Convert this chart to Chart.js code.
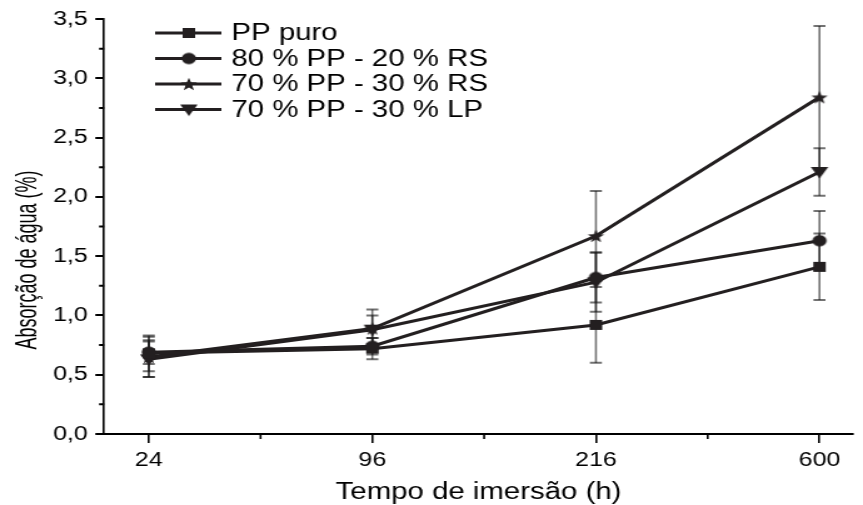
<!DOCTYPE html>
<html>
<head>
<meta charset="utf-8">
<script src="https://cdn.jsdelivr.net/npm/chart.js@4.4.1/dist/chart.umd.min.js"></script>
<style>
html, body { margin: 0; padding: 0; background: #fff; overflow: hidden; }
canvas { display: block; }
</style>
</head>
<body>
<!-- the original figure is stretched sideways, so the canvas is drawn narrow and widened by css -->
<canvas id="absorcao" width="690" height="505" style="width:863px;height:505px"></canvas>
<script>
const categories = ['24', '96', '216', '600']
const seriesNames = ['PP puro', '80 % PP - 20 % RS', '70 % PP - 30 % RS', '70 % PP - 30 % LP']

const ppPuro = [0.68, 0.72, 0.92, 1.41]
const ppPuroErr = [0.15, 0.09, 0.32, 0.28]
const pp80rs20 = [0.69, 0.74, 1.32, 1.63]
const pp80rs20Err = [0.10, 0.07, 0.21, 0.25]
const pp70rs30 = [0.65, 0.89, 1.67, 2.84]
const pp70rs30Err = [0.17, 0.16, 0.38, 0.60]
const pp70lp30 = [0.63, 0.88, 1.28, 2.21]
const pp70lp30Err = [0.15, 0.12, 0.25, 0.20]

const ink = '#231f20'
const font = "'Liberation Sans', Arial, sans-serif"

function marker(kind) {
    const c = document.createElement('canvas')
    c.width = 18
    c.height = 18
    const g = c.getContext('2d')
    g.fillStyle = ink
    g.beginPath()
    if (kind === 'square') {
        g.rect(4, 4, 10, 10)
    } else if (kind === 'circle') {
        g.arc(9, 9, 5.7, 0, Math.PI * 2)
    } else if (kind === 'star') {
        for (let k = 0; k < 10; k++) {
            const r = k % 2 ? 2.8 : 6.9
            const a = -Math.PI / 2 + k * Math.PI / 5
            g.lineTo(9 + r * Math.cos(a), 9.6 + r * Math.sin(a))
        }
    } else {
        g.moveTo(2, 4)
        g.lineTo(16, 4)
        g.lineTo(9, 15.5)
    }
    g.closePath()
    g.fill()
    return c
}

const markers = [marker('square'), marker('circle'), marker('star'), marker('tri')]
const values = [ppPuro, pp80rs20, pp70rs30, pp70lp30]
const errors = [ppPuroErr, pp80rs20Err, pp70rs30Err, pp70lp30Err]

const datasets = values.map((vals, i) => ({
    label: seriesNames[i],
    data: vals.map((v, j) => ({ x: j, y: v })),
    errors: errors[i],
    borderColor: ink,
    borderWidth: 3,
    pointStyle: markers[i],
    pointRadius: 5,
    tension: 0
}))

// vertical error bars with caps, drawn under the lines
const errorBars = {
    id: 'errorBars',
    beforeDatasetsDraw(chart) {
        const ctx = chart.ctx
        const y = chart.scales.y
        ctx.save()
        ctx.strokeStyle = 'rgba(20,20,20,0.6)'
        chart.data.datasets.forEach((ds, i) => {
            const meta = chart.getDatasetMeta(i)
            ds.errors.forEach((e, j) => {
                const px = meta.data[j].x
                const top = y.getPixelForValue(ds.data[j].y + e)
                const bot = y.getPixelForValue(ds.data[j].y - e)
                ctx.lineWidth = 1.6
                ctx.beginPath()
                ctx.moveTo(px, top)
                ctx.lineTo(px, bot)
                ctx.stroke()
                ctx.lineWidth = 2
                ctx.beginPath()
                ctx.moveTo(px - 4.8, top)
                ctx.lineTo(px + 4.8, top)
                ctx.moveTo(px - 4.8, bot)
                ctx.lineTo(px + 4.8, bot)
                ctx.stroke()
            })
        })
        ctx.restore()
    }
}

// minor ticks, legend and axis titles
const decorations = {
    id: 'decorations',
    afterDraw(chart) {
        const ctx = chart.ctx
        const { x, y } = chart.scales
        const area = chart.chartArea
        ctx.save()
        ctx.strokeStyle = '#000'

        ctx.lineWidth = 1.6
        ctx.beginPath()
        for (let v = 0.5; v < 3; v += 1) {
            const px = x.getPixelForValue(v)
            ctx.moveTo(px, area.bottom)
            ctx.lineTo(px, area.bottom + 5)
        }
        ctx.stroke()
        ctx.lineWidth = 2
        ctx.beginPath()
        for (let v = 0.25; v < 3.5; v += 0.5) {
            const py = y.getPixelForValue(v)
            ctx.moveTo(area.left, py)
            ctx.lineTo(area.left - 4, py)
        }
        ctx.stroke()

        // legend
        ctx.fillStyle = '#000'
        ctx.font = '23.5px ' + font
        ctx.textBaseline = 'middle'
        chart.data.datasets.forEach((ds, i) => {
            const ry = 33 + i * 25.5
            ctx.strokeStyle = ink
            ctx.lineWidth = 3
            ctx.beginPath()
            ctx.moveTo(124, ry)
            ctx.lineTo(177, ry)
            ctx.stroke()
            const m = ds.pointStyle
            ctx.drawImage(m, 151 - m.width / 2, ry - m.height / 2)
            ctx.fillText(ds.label, 185, ry + 1)
        })

        // axis titles
        ctx.textAlign = 'center'
        ctx.font = '23.5px ' + font
        ctx.fillText('Tempo de imersão (h)', (area.left + area.right) / 2, 493)
        ctx.translate(22, 260)
        ctx.rotate(-Math.PI / 2)
        ctx.scale(0.75, 1)
        ctx.font = '24px ' + font
        ctx.fillText('Absorção de água (%)', 0, 0)
        ctx.restore()
    }
}

const chart = new Chart(document.getElementById('absorcao'), {
    type: 'line',
    data: { datasets: datasets },
    plugins: [errorBars, decorations],
    options: {
        responsive: false,
        devicePixelRatio: 1,
        animation: false,
        layout: { padding: { left: 0, top: 19, right: 2.4, bottom: 0 } },
        plugins: { legend: { display: false }, tooltip: { enabled: false } },
        scales: {
            x: {
                type: 'linear',
                min: -0.2,
                max: 3.15,
                afterFit: (s) => { s.height = 71 },
                border: { display: true, color: '#000', width: 2 },
                grid: { drawOnChartArea: false, drawTicks: true, tickLength: 9, color: '#000', lineWidth: 1.6 },
                ticks: {
                    stepSize: 1,
                    includeBounds: false,
                    autoSkip: false,
                    maxRotation: 0,
                    padding: 5,
                    color: '#000',
                    font: { family: font, size: 20 },
                    callback: (v) => Number.isInteger(v) ? categories[v] : ''
                }
            },
            y: {
                min: 0,
                max: 3.5,
                afterFit: (s) => { s.width = 83.2 },
                border: { display: true, color: '#000', width: 1.6 },
                grid: { drawOnChartArea: false, drawTicks: true, tickLength: 7, color: '#000', lineWidth: 2 },
                ticks: {
                    stepSize: 0.5,
                    padding: 6,
                    color: '#000',
                    font: { family: font, size: 20 },
                    callback: (v) => v.toFixed(1).replace('.', ',')
                }
            }
        }
    }
})
</script>
</body>
</html>
